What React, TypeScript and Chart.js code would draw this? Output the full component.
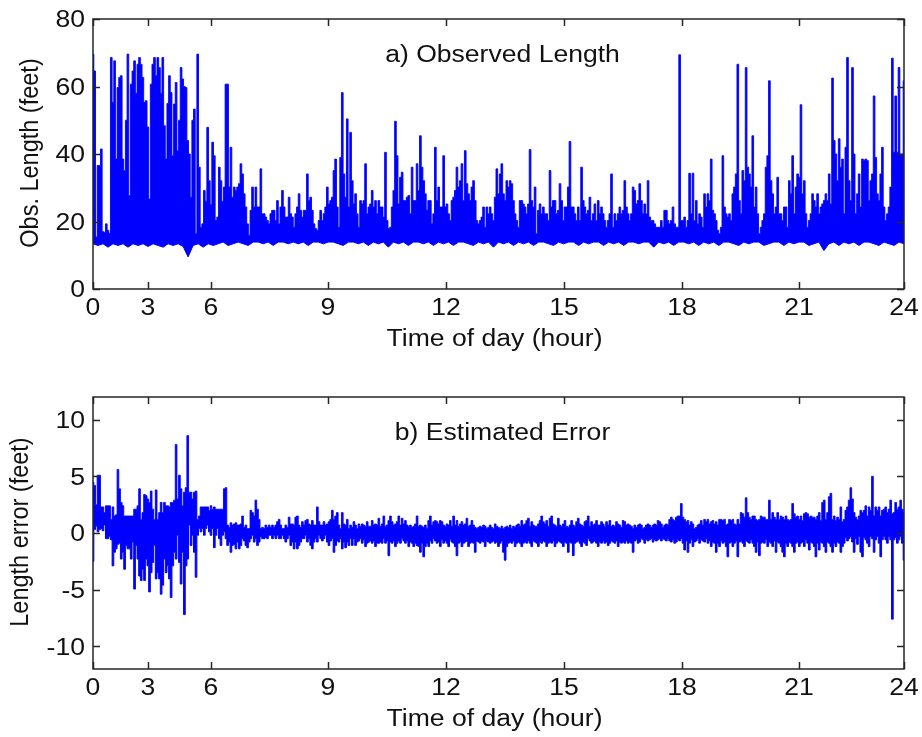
import React, { useEffect, useRef } from 'react';
import { Chart, registerables } from 'chart.js';

Chart.register(...registerables);

// ---------- data ----------
// record index span of one day; hour ticks fall at these record positions
const RECORD_SPAN = 811;
const hourTickIndex = [0, 55, 118, 235, 353, 471, 589, 706, 811];
const hourTickLabels = ['0', '3', '6', '9', '12', '15', '18', '21', '24'];

const lengthTicks = [0, 20, 40, 60, 80];
const lengthTickLabels = ['0', '20', '40', '60', '80'];
const errorTicks = [-10, -5, 0, 5, 10];
const errorTickLabels = ['-10', '-5', '0', '5', '10'];

// a) observed length: upper envelope of the dense trace (feet), evenly spaced over the day
const obsLengthHigh = [
  69.6, 64.6, 15.4, 36.6, 36.6, 41.5, 17.0, 16.8, 19.3, 17.4,
  16.5, 68.6, 55.3, 67.6, 38.5, 59.7, 62.7, 63.2, 38.5, 35.1,
  50.0, 69.6, 27.7, 60.7, 64.6, 67.6, 58.0, 66.6, 68.6, 66.6,
  62.7, 55.3, 55.8, 48.0, 26.7, 60.7, 66.6, 68.6, 63.2, 68.6,
  65.6, 58.0, 68.6, 48.4, 38.5, 55.0, 63.2, 58.2, 39.5, 54.8,
  61.2, 41.0, 50.0, 65.6, 62.2, 60.0, 59.7, 44.0, 40.0, 27.2,
  50.0, 53.3, 16.4, 69.6, 36.1, 18.3, 19.3, 29.2, 26.0, 47.9,
  32.1, 25.0, 43.5, 39.5, 20.3, 21.3, 36.1, 32.1, 26.0, 30.2,
  60.7, 60.7, 30.2, 42.0, 27.2, 30.2, 29.2, 30.2, 31.2, 37.1,
  34.1, 28.2, 24.3, 19.3, 15.9, 23.3, 30.2, 24.3, 30.2, 24.3,
  24.3, 35.6, 22.3, 22.3, 21.3, 20.3, 19.3, 22.3, 23.3, 23.3,
  20.3, 26.2, 19.3, 24.3, 29.2, 24.3, 21.3, 21.3, 27.2, 22.3,
  21.3, 18.3, 22.3, 24.3, 28.2, 23.3, 21.3, 23.3, 23.3, 34.1,
  26.2, 27.2, 23.3, 19.3, 17.9, 17.4, 20.3, 23.3, 20.3, 22.3,
  24.3, 30.2, 25.2, 26.2, 27.2, 35.1, 38.5, 24.3, 18.3, 39.0,
  58.2, 34.1, 27.2, 50.4, 24.3, 46.4, 32.1, 25.2, 28.2, 22.3,
  18.3,
  26.2, 25.2, 26.2, 37.1, 22.3, 24.3, 25.2, 29.2, 24.3, 26.2,
  22.3, 26.2, 24.3, 24.3, 21.3, 40.5, 20.3, 17.9, 18.3, 24.3,
  29.2, 49.7, 39.5, 25.2, 33.1, 34.6, 26.2, 26.2, 27.2, 27.7,
  22.3, 36.1, 26.2, 26.2, 37.1, 29.2, 45.4, 36.1, 32.1, 28.2,
  23.3, 26.2, 26.2, 19.3, 22.3, 42.0, 26.2, 30.2, 24.3, 24.3,
  39.5, 24.3, 25.2, 22.3, 20.3, 26.2, 27.2, 29.2, 36.1, 30.2,
  32.1, 37.1, 26.2, 41.0, 31.2, 28.2, 26.2, 30.2, 32.1, 26.2,
  20.3, 19.3, 20.3, 21.3, 24.3, 18.3, 24.3, 22.3, 24.3, 22.3,
  20.3, 27.2, 35.6, 28.2, 34.1, 37.1, 28.2, 26.2, 32.1, 30.2,
  32.1, 31.2, 26.2, 22.3, 20.3, 18.3, 26.2, 26.2, 25.2, 24.3,
  22.3, 25.2, 41.3, 26.2, 24.3, 30.2, 16.4, 23.3, 25.2, 22.3,
  24.3, 22.3, 22.3, 20.3, 35.1, 24.3, 26.2, 26.2, 22.3, 23.3,
  31.2, 26.2, 20.3, 24.3, 24.3, 30.2, 43.7, 24.3, 24.3, 22.3,
  20.3, 24.3, 20.3, 36.1, 26.2, 24.3, 22.3, 23.3, 27.2, 20.3,
  22.3, 25.2, 20.3, 26.2, 22.3, 24.3, 22.3, 20.3, 18.3, 20.3,
  22.3, 34.1, 18.3, 22.3, 20.3, 22.3, 24.3, 22.3, 23.3, 32.1,
  24.3, 22.3, 20.3, 22.3,
  30.2, 29.2, 25.2, 26.2, 31.2, 26.2, 22.3, 25.2, 22.3, 32.1,
  21.3, 20.3, 20.3, 19.3, 18.3, 18.3, 18.3, 20.3, 18.3, 23.3,
  23.3, 20.3, 19.3, 20.3, 24.3, 19.3, 18.3, 18.3, 69.4, 20.3,
  20.3, 21.3, 18.3, 20.3, 34.3, 22.3, 34.3, 20.3, 26.2, 19.3,
  22.3, 21.3, 18.3, 28.2, 24.3, 28.2, 26.2, 38.5, 23.3, 22.3,
  20.3, 17.4, 16.4, 18.3, 39.5, 24.3, 22.3, 21.3, 22.3, 20.3,
  28.2, 30.2, 34.1, 66.6, 26.2, 22.3, 35.1, 32.1, 65.6, 36.1,
  34.1, 30.2, 45.4, 24.3, 30.2, 22.3, 16.4, 18.3, 20.3, 22.3,
  36.1, 39.5, 61.7, 32.1, 28.2, 22.3, 24.3, 33.1, 22.3, 22.3,
  20.3, 24.3, 24.3, 18.3, 32.1, 28.2, 39.5, 22.3, 30.2, 34.1,
  33.1, 54.6, 28.2, 32.1, 22.3, 18.3, 20.3, 22.3, 28.2, 26.2,
  24.3, 28.2, 22.3, 24.3, 25.2, 26.2, 28.2, 26.2, 34.1, 25.2,
  62.5, 44.0, 40.0, 32.1, 44.5, 36.1, 38.5, 22.3, 42.0, 68.6,
  32.1, 26.2, 65.6, 40.0, 22.3, 28.2, 34.1, 24.3, 38.5, 38.1,
  38.5, 38.1, 26.2, 32.1, 34.1, 57.2, 39.0, 28.2, 26.2, 34.1,
  42.0, 24.3, 20.3, 22.3, 24.3, 30.2, 68.4, 40.5, 57.2, 40.5,
  65.6, 40.0, 40.0, 61.7,
];

// a) observed length: lower envelope (feet)
const obsLengthLow = [
  13.4, 12.9, 13.4, 12.4, 13.4, 12.9, 13.4, 12.4, 13.4, 12.9, 13.4, 12.6,
  13.4, 12.9, 12.4, 13.4, 12.9, 13.4, 12.6, 9.5, 12.9, 13.4, 12.4, 13.4,
  12.9, 13.4, 13.9, 12.9, 13.4, 13.9, 13.4, 12.9, 13.9, 13.9, 13.4, 13.9,
  12.9, 13.9, 13.9, 13.4, 13.9, 13.4, 13.9, 12.9, 13.9, 13.9, 13.4, 13.9,
  13.9, 13.4, 12.9, 13.9, 13.9, 13.4, 13.9, 12.9, 13.9, 13.4, 13.9, 12.4,
  13.9, 13.4, 13.9, 12.9, 13.9, 13.9, 13.4, 13.9, 12.9, 13.9, 13.4, 13.9,
  12.9, 13.9, 13.9, 13.4, 12.9, 13.9, 13.4, 13.9, 12.4, 13.9, 13.4, 13.9,
  12.9, 13.9, 13.4, 13.9, 12.9, 13.9, 13.9, 13.4, 12.9, 13.9, 13.4, 13.9,
  13.9, 12.9, 13.9, 13.4, 13.9, 13.9, 12.9, 13.9, 13.4, 13.9, 12.9, 13.9,
  13.9, 13.4, 13.9, 13.9, 12.4, 13.9, 13.4, 13.9, 12.9, 13.9, 13.9, 13.4,
  13.9, 12.9, 13.9, 13.4, 13.9, 12.9, 13.9, 13.9, 13.4, 12.9, 13.9, 13.4,
  13.9, 13.9, 12.9, 13.4, 13.9, 13.9, 12.9, 13.9, 13.4, 13.9, 13.9, 12.9,
  13.4, 13.9, 11.4, 13.4, 13.9, 12.9, 13.9, 13.4, 13.9, 12.9, 13.9, 13.9,
  13.4, 12.9, 13.9, 13.4, 12.9, 13.9, 13.4,
];

// b) estimated error: upper envelope (feet)
const errHigh = [
  4.5, 4.2, 2.5, 5.1, 5.1, 2.3, 2.3, 1.8, 2.4, 2.4,
  2.4, 1.2, 2.3, 1.5, 1.6, 5.6, 3.9, 2.7, 2.4, 1.5,
  1.5, 1.5, 1.5, 1.5, 1.5, 2.1, 2.1, 2.4, 3.9, 1.2,
  1.8, 3.4, 3.3, 3.0, 2.7, 3.7, 2.1, 1.2, 3.8, 1.2,
  1.8, 2.7, 1.8, 2.7, 2.4, 2.4, 2.3, 2.7, 2.7, 2.9,
  7.8, 3.0, 5.1, 3.9, 2.4, 3.6, 4.0, 8.6, 3.6, 3.6,
  3.0, 3.6, 3.7, 1.2, 1.5, 2.3, 2.3, 2.3, 2.3, 2.3,
  2.0, 2.4, 2.1, 2.3, 2.1, 2.1, 2.1, 2.1, 2.1, 3.9,
  4.0, 0.7, 0.5, 0.9, 0.7, 0.8, 0.9, 0.7, 0.7, 0.8,
  1.5, 0.5, 0.7, 0.4, 0.4, 2.0, 1.8, 1.5, 2.9, 2.1,
  1.2, 0.4, 0.5, 0.4, 0.7, 0.5, 0.7, 0.5, 0.7, 0.5,
  0.7, 1.0, 1.2, 0.7, 0.4, 0.4, 0.7, 0.5, 1.4, 0.8,
  0.8, 0.7, 1.4, 1.5, 0.7, 0.5, 1.0, 0.7, 1.1, 1.2,
  0.8, 0.7, 1.1, 0.7, 0.7, 2.3, 1.0, 0.7, 0.7, 1.0,
  0.7, 0.8, 1.0, 1.2, 2.0, 1.2, 1.5, 1.8, 0.7, 0.4,
  1.8, 0.8, 0.7, 1.2, 0.4, 0.7, 0.5, 1.0, 0.7, 0.4,
  0.8,
  0.6, 0.8, 0.7, 0.6, 1.0, 0.6, 0.6, 1.1, 0.7, 0.8,
  0.7, 1.3, 0.6, 0.8, 1.5, 0.6, 0.7, 1.1, 1.5, 1.0,
  0.7, 0.8, 1.0, 1.5, 0.7, 1.3, 0.8, 1.1, 0.7, 0.6,
  0.7, 0.5, 0.6, 0.8, 1.5, 0.6, 0.7, 0.6, 0.5, 0.7,
  0.4, 1.1, 1.5, 0.7, 1.0, 1.1, 1.0, 0.8, 1.1, 1.0,
  0.7, 0.6, 0.8, 0.7, 1.1, 0.6, 1.5, 0.7, 1.1, 0.6,
  0.8, 1.0, 0.7, 0.8, 1.3, 0.6, 0.7, 1.1, 0.7, 0.5,
  0.4, 0.5, 0.6, 0.5, 0.7, 0.6, 0.4, 0.5, 0.7, 0.5,
  0.4, 0.8, 0.6, 0.5, 0.4, 0.6, 0.4, 0.5, 0.6, 0.5,
  0.7, 0.4, 0.6, 0.5, 0.7, 0.8, 0.6, 1.1, 0.7, 0.8,
  1.1, 1.3, 0.6, 1.0, 0.7, 0.6, 0.6, 0.8, 1.1, 1.5,
  1.0, 0.8, 1.1, 0.6, 1.3, 1.5, 0.8, 0.7, 0.6, 1.3,
  0.7, 0.6, 0.8, 1.1, 0.6, 0.5, 0.7, 1.1, 0.7, 0.6,
  1.0, 1.3, 0.8, 0.7, 0.6, 1.0, 1.1, 1.5, 0.6, 1.0,
  0.7, 0.8, 1.1, 0.7, 0.7, 1.0, 0.8, 0.6, 1.0, 0.7,
  1.1, 0.6, 0.7, 0.6, 1.0, 0.8, 0.7, 0.5, 1.1, 1.0,
  0.7, 0.8, 0.7, 0.6,
  0.4, 0.7, 0.5, 0.7, 0.8, 0.7, 0.4, 0.5, 0.7, 0.8,
  0.7, 0.5, 0.7, 0.8, 0.7, 1.1, 1.0, 0.8, 0.5, 0.7,
  0.8, 0.7, 1.2, 1.4, 1.2, 1.1, 1.4, 1.5, 1.5, 2.6,
  1.4, 1.2, 1.0, 1.1, 0.7, 1.0, 0.8, 0.4, 0.5, 0.7,
  0.8, 1.1, 0.7, 1.2, 1.0, 1.2, 0.8, 1.0, 1.1, 0.8,
  1.0, 0.7, 1.2, 1.2, 1.1, 1.2, 0.7, 0.8, 1.2, 1.1,
  1.2, 0.8, 0.7, 1.2, 0.8, 1.8, 1.7, 1.4, 3.1, 1.8,
  1.4, 1.2, 1.5, 1.5, 1.2, 1.1, 1.2, 1.5, 1.4, 1.4,
  1.2, 1.2, 2.9, 1.2, 1.8, 1.4, 1.2, 1.8, 1.2, 1.5,
  1.4, 1.2, 1.5, 1.2, 1.1, 1.2, 2.6, 1.7, 1.4, 1.5,
  1.2, 1.5, 1.1, 1.7, 1.8, 1.7, 1.4, 1.5, 1.4, 1.4,
  1.2, 1.5, 1.8, 1.1, 2.7, 2.9, 1.2, 1.8, 3.2, 3.5,
  1.2, 1.5, 1.1, 1.4, 1.2, 2.3, 1.0, 1.2, 2.0, 2.3,
  2.9, 4.0, 3.0, 1.8, 1.4, 1.2, 1.5, 2.0, 1.8, 2.0,
  2.4, 1.5, 2.3, 2.0, 5.0, 1.5, 2.3, 2.0, 2.3, 1.5,
  2.0, 2.1, 2.3, 1.8, 2.1, 2.9, 1.7, 1.8, 2.7, 2.1,
  2.3, 2.9, 2.1, 1.8,
];

// b) estimated error: lower envelope (feet)
const errLow = [
  -2.5, 0.3, 0.6, 0.1, 0.3, 0.4, 0.2, 0.7, -0.5, -0.5,
  -0.3, -0.6, -2.9, -1.7, -1.4, -1.0, -0.9, -2.3, -1.7, -3.2,
  -1.1, -1.4, -1.4, -2.3, -0.8, -4.95, -1.1, -2.3, -3.8, -4.2,
  -3.2, -4.2, -2.3, -2.9, -5.2, -3.5, -2.6, -1.1, -4.05, -3.5,
  -4.05, -5.4, -4.6, -2.3, -3.5, -2.9, -4.05, -5.7, -2.9, -1.7,
  -2.3, -0.2, -2.6, -4.5, -1.7, -7.2, -2.9, -2.3, 0.7, -1.1,
  -0.2, -1.7, -3.9, -0.2, 0.4, 0.1, 0.4, -0.2, 0.4, 0.7,
  0.1, -0.2, 0.4, -1.3, -0.2, 0.4, -0.5, -1.1, -0.2, 0.1,
  -0.5, -1.1, -0.8, -1.7, -1.1, -1.0, -1.4, -0.8, -1.4, -1.1,
  -0.5, -0.7, -1.1, -1.3, -0.8, -0.5, -0.2, -0.8, -0.5, -1.1,
  -0.8, -0.3, -0.5, -0.5, -0.4, -0.5, -0.2, -0.2, -0.5, -0.2,
  -0.5, -0.2, -0.5, -0.5, -0.2, -0.5, -0.8, -0.5, -0.2, -1.1,
  -0.8, -1.4, -0.8, -1.4, -1.1, -0.8, -0.5, -0.5, -0.2, -0.8,
  -0.5, -1.1, -1.4, -0.8, -0.5, -0.8, -0.2, -0.5, -0.7, -0.5,
  -0.2, -0.8, -1.1, -0.7, -0.5, -1.7, -1.1, -0.7, -0.8, -0.5,
  -1.4, -0.8, -1.3, -0.8, -1.1, -0.5, -1.1, -0.5, -1.1, -0.8,
  -0.7,
  -0.5, -0.9, -0.6, -1.2, -0.9, -0.8, -0.7, -0.9, -0.7, -1.2,
  -0.9, -0.9, -0.8, -0.9, -0.5, -0.9, -0.7, -2.0, -0.8, -0.9,
  -0.7, -1.2, -0.9, -0.7, -0.9, -0.5, -0.7, -0.9, -0.7, -1.2,
  -0.8, -0.9, -1.2, -0.9, -1.1, -1.2, -1.7, -0.9, -2.1, -1.2,
  -0.9, -1.2, -0.7, -0.9, -0.5, -0.7, -0.9, -0.8, -1.2, -0.6,
  -0.9, -0.7, -0.9, -1.2, -0.6, -0.8, -0.9, -1.2, -2.0, -0.9,
  -0.8, -1.2, -0.9, -0.8, -0.7, -1.2, -0.9, -0.8, -0.9, -1.7,
  -0.7, -0.8, -0.9, -0.7, -0.8, -1.2, -0.7, -0.8, -0.9, -0.8,
  -0.7, -0.9, -0.8, -1.2, -0.9, -0.7, -1.7, -2.4, -1.2, -0.9,
  -0.8, -0.9, -0.7, -1.2, -0.9, -0.8, -0.9, -1.2, -0.9, -0.8,
  -0.9, -0.7, -0.9, -1.2, -0.7, -0.8, -0.9, -1.2, -0.8, -0.9,
  -0.7, -0.8, -1.2, -0.9, -0.8, -0.9, -0.7, -1.2, -0.9, -0.7,
  -0.8, -0.9, -1.2, -0.8, -0.9, -1.7, -0.8, -0.9, -2.0, -0.9,
  -0.8, -0.7, -0.9, -1.2, -0.8, -0.9, -1.1, -0.5, -0.7, -0.9,
  -0.8, -0.7, -0.9, -1.2, -0.8, -0.9, -0.7, -0.9, -0.8, -1.1,
  -0.9, -0.7, -0.8, -0.9, -0.7, -1.2, -0.8, -0.9, -0.8, -0.9,
  -0.7, -0.9, -0.8, -0.9,
  -1.7, -0.7, -0.6, -0.9, -0.8, -0.5, -0.6, -0.9, -0.6, -0.7,
  -0.6, -0.5, -0.8, -0.6, -0.7, -0.6, -0.5, -0.7, -0.5, -0.6,
  -0.7, -0.5, -0.7, -0.8, -0.6, -0.9, -0.8, -0.6, -0.7, -0.5,
  -0.9, -1.5, -0.7, -1.7, -0.9, -0.6, -1.2, -0.8, -0.7, -0.5,
  -0.9, -0.6, -0.7, -0.8, -0.5, -0.9, -0.7, -1.2, -0.8, -0.9,
  -1.7, -0.9, -1.2, -0.7, -0.9, -0.8, -1.2, -2.1, -0.9, -0.8,
  -1.2, -0.9, -0.7, -2.1, -0.8, -0.7, -0.9, -1.2, -0.7, -0.8,
  -0.9, -0.6, -0.9, -1.2, -1.7, -0.8, -2.0, -0.9, -0.8, -0.9,
  -0.6, -1.2, -0.8, -0.9, -1.2, -0.7, -1.7, -0.8, -0.9, -1.2,
  -1.7, -2.1, -0.9, -1.2, -0.8, -0.9, -1.2, -1.7, -0.9, -0.8,
  -1.2, -0.9, -0.8, -1.2, -0.6, -0.9, -1.5, -0.8, -0.9, -1.2,
  -2.1, -0.9, -1.5, -0.8, -0.9, -1.2, -1.7, -0.8, -0.9, -1.2,
  -1.7, -0.9, -1.2, -0.8, -0.9, -1.7, -1.2, -0.9,
  -0.4, -0.7, -0.5, -0.3, -0.8, -1.7, -0.5, -1.0, -0.3, -1.7,
  -2.1, -0.4, -0.6, -0.9, -1.2, -0.3, -0.5, -1.7, -0.6, -0.3,
  -0.9, -2.1, -0.6, -0.3, -0.6, -0.9, -0.3, -0.6, -7.6, -0.6,
  -0.4, -0.9, -0.6, -0.3, -0.9, -2.4,
];

// ---------- styling ----------
const BLUE = '#0000ff';
const INK = '#111111';
const FRAME = '#262626';
const FONT_FAMILY = '"Liberation Sans", Arial, Helvetica, sans-serif';
const FONT_PX = 23.5;
const STRETCH = 1.13;
const TICK_LEN = 7;

function spread(values: number[]) {
  const step = RECORD_SPAN / (values.length - 1);
  return values.map((v, i) => ({ x: i * step, y: v }));
}

function drawText(ctx: any, text: string, x: number, y: number, align: string, vertical = false) {
  ctx.save();
  ctx.translate(x, y);
  if (vertical) {
    ctx.rotate(-Math.PI / 2);
    ctx.scale(1, STRETCH);
  } else {
    ctx.scale(STRETCH, 1);
  }
  ctx.textAlign = align;
  ctx.textBaseline = 'alphabetic';
  ctx.fillText(text, 0, 0);
  ctx.restore();
}

const matlabAxes = {
  id: 'matlabAxes',
  afterDraw(chart: any, _args: any, o: any) {
    const { ctx, chartArea: a } = chart;
    const xs = chart.scales.x;
    const ys = chart.scales.y;
    ctx.save();
    ctx.strokeStyle = FRAME;
    ctx.lineWidth = 1.5;
    ctx.strokeRect(a.left, a.top, a.right - a.left, a.bottom - a.top);
    ctx.beginPath();
    xs.ticks.forEach((t: any) => {
      const p = Math.round(xs.getPixelForValue(t.value)) + 0.5;
      ctx.moveTo(p, a.bottom);
      ctx.lineTo(p, a.bottom - TICK_LEN);
      ctx.moveTo(p, a.top);
      ctx.lineTo(p, a.top + TICK_LEN);
    });
    ys.ticks.forEach((t: any) => {
      const p = Math.round(ys.getPixelForValue(t.value)) + 0.5;
      ctx.moveTo(a.left, p);
      ctx.lineTo(a.left + TICK_LEN, p);
      ctx.moveTo(a.right, p);
      ctx.lineTo(a.right - TICK_LEN, p);
    });
    ctx.stroke();

    ctx.fillStyle = INK;
    ctx.font = `${FONT_PX}px ${FONT_FAMILY}`;
    const capHalf = FONT_PX * 0.716 / 2;
    xs.ticks.forEach((t: any, i: number) => {
      drawText(ctx, o.xLabels[i], xs.getPixelForValue(t.value), a.bottom + 26, 'center');
    });
    ys.ticks.forEach((t: any, i: number) => {
      drawText(ctx, o.yLabels[i], 85, ys.getPixelForValue(t.value) + capHalf, 'right');
    });
    drawText(ctx, o.xTitle, (a.left + a.right) / 2 - 4, a.bottom + 57, 'center');
    drawText(ctx, o.yTitle, o.yTitleX, (a.top + a.bottom) / 2 - 1, 'center', true);
    drawText(ctx, o.title, (a.left + a.right) / 2 + 4, a.top + 43, 'center');
    ctx.restore();
  },
};

function makeConfig(p: any) {
  return {
    type: 'line',
    data: {
      datasets: [
        {
          data: spread(p.low),
          borderColor: BLUE,
          borderWidth: 1,
          pointRadius: 0,
          fill: false,
          stepped: p.lowStepped ? 'middle' : false,
          tension: 0,
        },
        {
          data: spread(p.high),
          borderColor: BLUE,
          backgroundColor: BLUE,
          borderWidth: 0.9,
          pointRadius: 0,
          fill: '-1',
          stepped: 'middle',
        },
      ],
    },
    options: {
      animation: false,
      responsive: false,
      maintainAspectRatio: false,
      events: [],
      layout: { padding: p.padding },
      scales: {
        x: {
          type: 'linear',
          min: 0,
          max: RECORD_SPAN,
          grid: { display: false },
          border: { display: false },
          ticks: { display: false },
          afterBuildTicks: (s: any) => {
            s.ticks = hourTickIndex.map((v) => ({ value: v }));
          },
          afterFit: (s: any) => {
            s.height = 60;
          },
        },
        y: {
          type: 'linear',
          min: p.yMin,
          max: p.yMax,
          grid: { display: false },
          border: { display: false },
          ticks: { display: false },
          afterBuildTicks: (s: any) => {
            s.ticks = p.yTicks.map((v: number) => ({ value: v }));
          },
          afterFit: (s: any) => {
            s.width = 93;
          },
        },
      },
      plugins: {
        legend: { display: false },
        tooltip: { enabled: false },
        matlabAxes: {
          title: p.title,
          xTitle: 'Time of day (hour)',
          yTitle: p.yTitle,
          xLabels: hourTickLabels,
          yLabels: p.yLabels,
          yTitleX: p.yTitleX,
        },
      },
    },
    plugins: [matlabAxes],
  };
}

function Panel({ height, params }: { height: number; params: any }) {
  const ref = useRef<HTMLCanvasElement>(null);
  useEffect(() => {
    const chart = new Chart(ref.current as any, makeConfig(params) as any);
    return () => chart.destroy();
  }, []);
  return (
    <canvas
      ref={ref}
      width={922}
      height={height}
      style={{ display: 'block', width: 922, height }}
    />
  );
}

export default function App() {
  return (
    <div
      style={{
        position: 'absolute',
        left: 0,
        top: 0,
        width: 922,
        height: 737,
        background: '#ffffff',
      }}
    >
      <Panel
        height={368}
        params={{
          low: obsLengthLow,
          high: obsLengthHigh,
          lowStepped: false,
          yMin: 0,
          yMax: 80,
          yTicks: lengthTicks,
          yLabels: lengthTickLabels,
          title: 'a) Observed Length',
          yTitle: 'Obs. Length (feet)',
          yTitleX: 38,
          padding: { top: 19, right: 18, bottom: 19, left: 0 },
        }}
      />
      <Panel
        height={369}
        params={{
          low: errLow,
          high: errHigh,
          lowStepped: true,
          yMin: -12,
          yMax: 12,
          yTicks: errorTicks,
          yLabels: errorTickLabels,
          title: 'b) Estimated Error',
          yTitle: 'Length error (feet)',
          yTitleX: 28,
          padding: { top: 29, right: 18, bottom: 8, left: 0 },
        }}
      />
    </div>
  );
}
